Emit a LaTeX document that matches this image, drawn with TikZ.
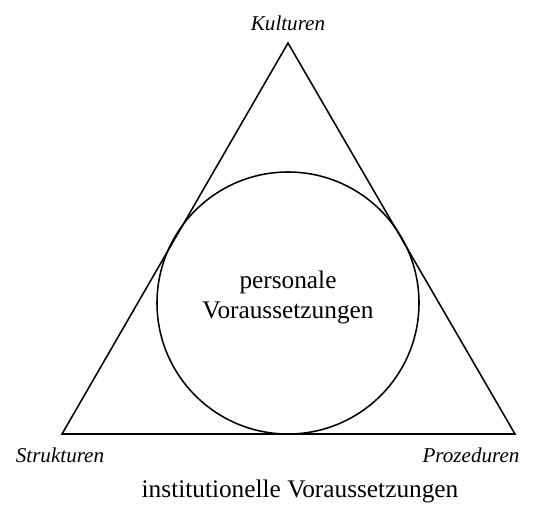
\documentclass[tikz,border=0pt]{standalone}
\usepackage{fontspec}
\setmainfont{Liberation Serif}
\usetikzlibrary{positioning}
\tikzstyle{cornerlabel} = [font=\fontsize{15}{18}\selectfont\itshape, inner sep=0pt, anchor=base]
\tikzstyle{plainlabel} = [font=\fontsize{18}{21.3}\selectfont, align=center, inner sep=0pt]
\tikzstyle{inner} = [circle, draw=black, line width=1.1pt, minimum size=262*0.025cm, inner sep=0pt]

\begin{document}
\begin{tikzpicture}[x=0.025cm, y=-0.025cm]
			\useasboundingbox (0,0) rectangle (537,507);
			\coordinate (top) at (288,43);
			\coordinate (left) at (62,434);
			\coordinate (right) at (515,434);
			\node[inner] (person) at (288,303) {};
			
			\draw [line width=1.1pt, line join=miter] (top) -- (left) -- (right) -- cycle;
			
			\node[plainlabel] (personlabel) at (288,297) {personale\\Voraussetzungen};
			\node[cornerlabel] (kult) at (288,30) {Kulturen};
			\node[cornerlabel] (strukt) at (60,462) {Strukturen};
			\node[cornerlabel] (proz) at (471,462) {Prozeduren};
			\node[plainlabel, anchor=base] (inst) at (300,497) {institutionelle Voraussetzungen};
		\end{tikzpicture}
\end{document}
